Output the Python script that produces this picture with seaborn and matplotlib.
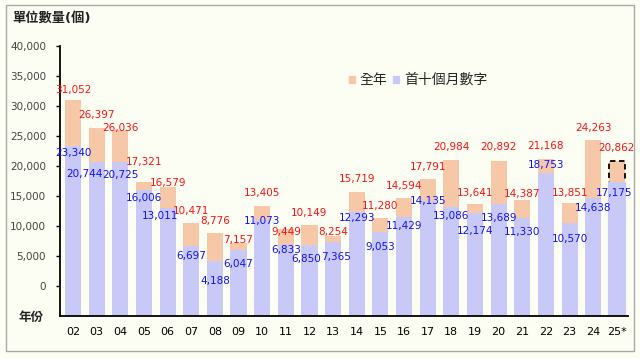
import matplotlib
matplotlib.use('Agg')
import matplotlib.pyplot as plt
import pandas as pd
import seaborn as sns
from matplotlib.patches import Patch, Rectangle

# Data
years = ['02', '03', '04', '05', '06', '07', '08', '09', '10', '11', '12', '13',
         '14', '15', '16', '17', '18', '19', '20', '21', '22', '23', '24', '25*']
full_year = [31052, 26397, 26036, 17321, 16579, 10471, 8776, 7157, 13405, 9449, 10149, 8254,
             15719, 11280, 14594, 17791, 20984, 13641, 20892, 14387, 21168, 13851, 24263, 20862]
first_ten = [23340, 20744, 20725, 16006, 13011, 6697, 4188, 6047, 11073, 6833, 6850, 7365,
             12293, 9053, 11429, 14135, 13086, 12174, 13689, 11330, 18753, 10570, 14638, 17175]
y_ticks = [0, 5000, 10000, 15000, 20000, 25000, 30000, 35000, 40000]

df = pd.DataFrame({'year': years, 'full': full_year, 'ten': first_ten})

# label nudges in pixels (label centre relative to bar top, + = below)
red_dy = [-10, -12.6, -2, -20, -3.5, -12, -12, -3, -12.6, 3, -12, -4,
          -12.7, -12.6, -12.7, -12.6, -13, -11.5, -14, -6, -13, -9.6, -12.7, -13]
blue_dy = [7, 12, 13, 8, 8, 10, 20, 14, 1, 5, 14, 15,
           6, 15, 9, 0, 9, 18, 14, 14, -8, 16, 10, 10]
blue_dx = [0, -12, 0, 0, -8, 0, 0, 0, 0, 0, -3, 3,
           0, 0, 0, 0, 0, 0, 0, 0, 0, 0, 0, -3]

BASE = -5000
ORANGE = '#F6C8A8'
BLUE = '#C9C9F7'
BG = '#FDFEF3'

sns.set_style('white')
plt.rcParams['font.family'] = ['DejaVu Sans', 'Noto Sans CJK TC']

fig = plt.figure(figsize=(6.4, 3.59), dpi=100, facecolor=BG)
ax = fig.add_axes([60 / 640, 1 - 316 / 359, 568 / 640, 270 / 359])
ax.set_facecolor(BG)

sns.barplot(data=df, x='year', y='full', order=years, color=ORANGE, saturation=1,
            width=0.68, linewidth=0, ax=ax)
sns.barplot(data=df, x='year', y='ten', order=years, color=BLUE, saturation=1,
            width=0.68, linewidth=0, ax=ax)

# bars hang down to the unlabeled -5000 baseline
for p in ax.patches:
    h = p.get_height()
    p.set_y(BASE)
    p.set_height(h - BASE)

# forecast year outlined with dashes (hidden behind the ten-month bar)
n = len(years)
last = ax.patches[n - 1]
last.set_edgecolor('black')
last.set_linestyle((0, (3, 2)))
last.set_linewidth(1.3)
cover = ax.patches[2 * n - 1]
cover.set_edgecolor(BLUE)
cover.set_linewidth(1.6)

for i in range(n):
    ax.annotate(f'{full_year[i]:,}', (i, full_year[i]), xytext=(0, -red_dy[i]),
                textcoords='offset pixels', ha='center', va='center',
                color='#FF1010', fontsize=7.5)
    ax.annotate(f'{first_ten[i]:,}', (i, first_ten[i]), xytext=(blue_dx[i], -blue_dy[i]),
                textcoords='offset pixels', ha='center', va='center',
                color='#1010FF', fontsize=7.5)

ax.set_xlim(-0.55, 23.47)
ax.set_ylim(BASE, 40000)
ax.set_yticks(y_ticks)
ax.set_yticklabels([f'{v:,}' for v in y_ticks], color='#444444', fontsize=7.5)
ax.set_xlabel('')
ax.set_ylabel('')
ax.tick_params(axis='y', direction='out', length=3, width=1, color='black', pad=7, left=True)
ax.tick_params(axis='x', length=0, pad=8, labelsize=8, labelcolor='black')
for s in ['top', 'right']:
    ax.spines[s].set_visible(False)
for s in ['left', 'bottom']:
    ax.spines[s].set_color('black')
    ax.spines[s].set_linewidth(1.3)

fig.text(12 / 640, 1 - 18 / 359, '單位數量(個)', fontsize=9.5, fontweight='bold',
         ha='left', va='center', color='#222222')
fig.text(31 / 640, 1 - 318 / 359, '年份', fontsize=9, fontweight='bold',
         ha='center', va='center', color='#222222')

handles = [Patch(color=ORANGE), Patch(color=BLUE)]
fig.legend(handles, ['全年', '首十個月數字'], ncol=2, frameon=False, loc='center left',
           bbox_to_anchor=(349 / 640, 1 - 80 / 359), fontsize=10, borderaxespad=0,
           borderpad=0, handlelength=0.4, handleheight=0.4, handletextpad=0.35,
           columnspacing=0.45)

fig.add_artist(Rectangle((6 / 640, 8 / 359), 628 / 640, 346 / 359, transform=fig.transFigure,
                         fill=False, edgecolor='#A8A8A8', linewidth=1))

fig.savefig('out.png', dpi=100, facecolor=BG)
